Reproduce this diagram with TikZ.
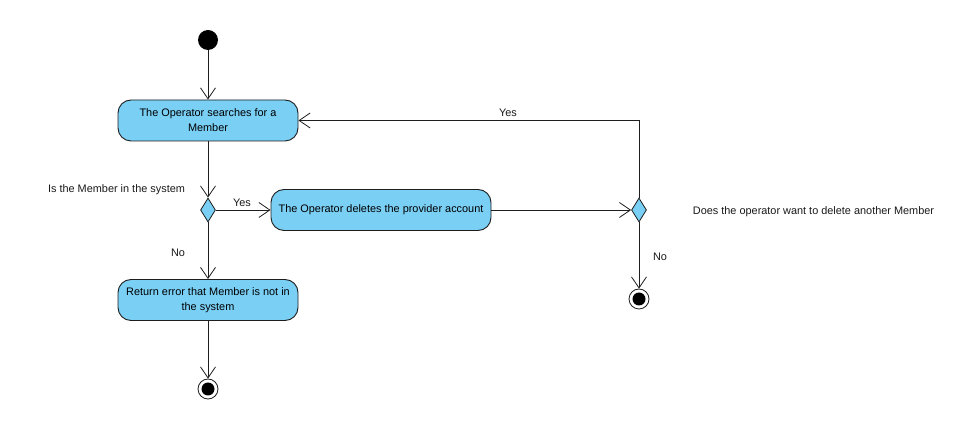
\documentclass[tikz,border=0pt]{standalone}
\usepackage{fontspec}
\setmainfont{Liberation Sans}
\usetikzlibrary{arrows.meta,shapes.geometric}
\definecolor{actfill}{RGB}{122,207,245}
\definecolor{lineclr}{RGB}{30,30,30}
\begin{document}
\begin{tikzpicture}[x=1pt,y=-1pt,
  font=\fontsize{10.9}{15}\selectfont,
  action/.style={draw=lineclr, fill=actfill, rounded corners=13pt, align=center, inner sep=0pt, line width=0.9pt},
  decision/.style={draw=lineclr, fill=actfill, diamond, minimum width=15pt, minimum height=24pt, inner sep=0pt, line width=0.8pt},
  flow/.style={draw=lineclr, line width=0.8pt, -{Straight Barb[length=11pt,width=15pt]}},
  lbl/.style={inner sep=0pt, text=black!90}]
\useasboundingbox (0,0) rectangle (962,443);
\node[circle, fill=black, minimum size=20pt, inner sep=0pt] (start) at (208,40) {};
\node[action, minimum width=180pt, minimum height=41pt] (search) at (208,120.5) {The Operator searches for a\\Member};
\node[decision] (dec1) at (208,210) {};
\node[action, minimum width=220pt, minimum height=41pt] (delete) at (381,210) {The Operator deletes the provider account};
\node[decision] (dec2) at (639,210) {};
\node[action, minimum width=180pt, minimum height=41pt] (error) at (208,300) {Return error that Member is not in\\the system};
\node[circle, draw=lineclr, fill=white, line width=0.8pt, minimum size=20pt, inner sep=0pt] (end2) at (639,299) {};
\fill[black] (end2.center) circle (6.5);
\node[circle, draw=lineclr, fill=white, line width=0.8pt, minimum size=20pt, inner sep=0pt] (end3) at (208,389) {};
\fill[black] (end3.center) circle (6.5);
\draw[flow] (start) -- (search);
\draw[flow] (search) -- (dec1);
\draw[flow] (dec1) -- (delete);
\draw[flow] (delete) -- (dec2);
\draw[flow] (dec2.north) |- (search.east);
\draw[flow] (dec2) -- (end2);
\draw[flow] (dec1) -- (error);
\draw[flow] (error) -- (end3);
\node[lbl] (yes1) at (242,203) {Yes};
\node[lbl] (no1) at (178,253) {No};
\node[lbl] (yes2) at (508,113) {Yes};
\node[lbl] (no2) at (660,257) {No};
\node[lbl] (q1) at (116.5,189.5) {Is the Member in the system};
\node[lbl] (q2) at (813.5,212) {Does the operator want to delete another Member};
\end{tikzpicture}
\end{document}
